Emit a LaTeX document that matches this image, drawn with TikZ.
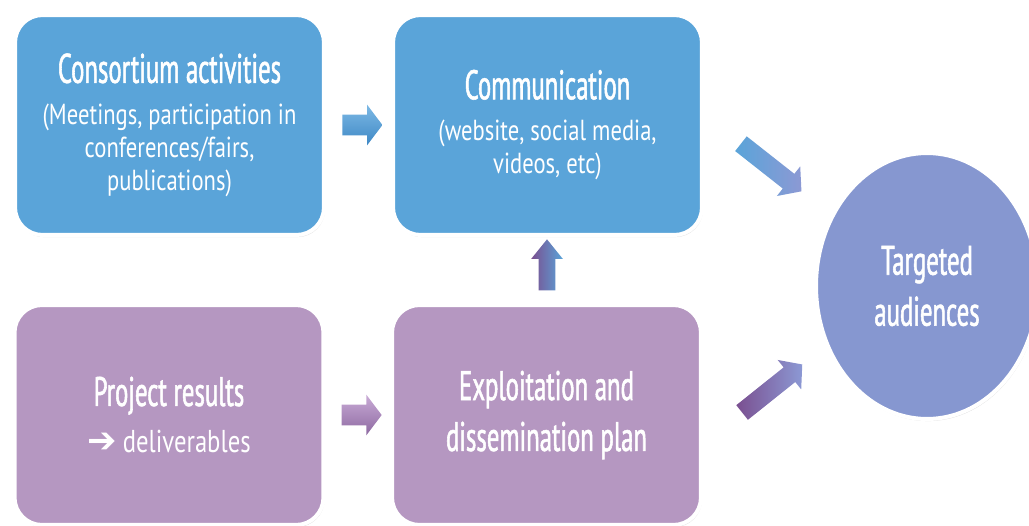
\documentclass[tikz,border=0pt]{standalone}
\usepackage{fontspec}
\setmainfont{PT Sans}
\newfontfamily\titlefont[FakeStretch=0.6, FakeBold=1.3]{PT Sans}
\newfontfamily\boxfont[FakeStretch=0.78]{PT Sans}
\newfontfamily\symbolfont{DejaVu Sans}
\usepackage{tikz}
\usetikzlibrary{shapes.geometric, shapes.arrows, shadows, calc, positioning}

\definecolor{boxblue}{HTML}{5AA4D9}
\definecolor{boxpurple}{HTML}{B597C1}
\definecolor{audblue}{HTML}{8697D0}
\definecolor{arrlight}{HTML}{7DB9E5}
\definecolor{arrdark}{HTML}{3E88C5}
\definecolor{plight}{HTML}{C9ABD6}
\definecolor{pdark}{HTML}{8D69A1}
\definecolor{pdeep}{HTML}{7A4F90}
\definecolor{midblue}{HTML}{8790CC}
\definecolor{headblue}{HTML}{8C99D4}

\newcommand{\ttl}{\titlefont\fontsize{23.5}{29}\selectfont}
\newcommand{\smalltxt}{\boxfont\fontsize{16.5}{18.7}\selectfont}

\begin{document}
\begin{tikzpicture}[x=0.02cm, y=-0.02cm,
    box/.style={draw=white, line width=0.08cm, rounded corners=0.55cm,
        minimum width=6.18cm, minimum height=4.4cm, text=white, align=center,
        font=\smalltxt, drop shadow={shadow xshift=0.6pt, shadow yshift=-1.2pt, opacity=0.25}},
    harr/.style={single arrow, draw=none, inner xsep=0pt, inner ysep=0.2cm,
        minimum height=0.8cm, minimum width=0.8cm,
        single arrow head extend=0.2cm, single arrow tip angle=106},
    varr/.style={single arrow, draw=none, inner xsep=0pt, inner ysep=0.16cm,
        minimum height=1.02cm, minimum width=0.62cm,
        single arrow head extend=0.15cm, single arrow tip angle=78},
    darr/.style={single arrow, draw=none, inner xsep=0pt, inner ysep=0.18cm,
        minimum height=1.54cm, minimum width=0.74cm,
        single arrow head extend=0.19cm, single arrow tip angle=98}]

\useasboundingbox (0,0) rectangle (1029,525);

\node[box, fill=boxblue] (cons) at (169.5,125) {{\ttl Consortium activities}\\[5pt]
    (Meetings, participation in\\ conferences/fairs,\\ publications)};
\node[box, fill=boxblue] (comm) at (547.5,125) {{\ttl Communication}\\[5pt]
    (website, social media,\\ videos, etc)};
\node[box, fill=boxpurple] (proj) at (169,415) {{\ttl Project results}\\[8pt]
    {\symbolfont\bfseries\fontsize{20}{20}\selectfont ➔} {\fontsize{18}{20}\selectfont deliverables}};
\node[box, fill=boxpurple, font=\ttl] (expl) at (546.5,415) {Exploitation and\\ dissemination plan};

\node[ellipse, draw=white, line width=0.08cm, fill=audblue, minimum width=4.44cm,
    minimum height=5.32cm, text=white, align=center, font=\ttl,
    drop shadow={shadow xshift=0.6pt, shadow yshift=-1.2pt, opacity=0.25}]
    (aud) at (927,286) {Targeted\\ audiences};

% arrows between the boxes
\node[harr, top color=arrlight, bottom color=arrdark] (a1)
    at ($(cons.east)!0.5!(comm.west)$) {};
\node[harr, top color=plight, bottom color=pdark] (a2)
    at ($(proj.east)!0.5!(expl.west)$) {};
\node[varr, rotate=90, left color=pdeep, middle color=midblue, right color=boxblue] (a3)
    at ($(expl.north)!0.5!(comm.south)$) {};

% arrows to the audiences
\node[darr, rotate=-38.2, left color=boxblue, right color=headblue] (a4) at (768,165) {};
\node[darr, rotate=38.6, left color=pdeep, right color=headblue] (a5) at (769,391) {};

\end{tikzpicture}
\end{document}
